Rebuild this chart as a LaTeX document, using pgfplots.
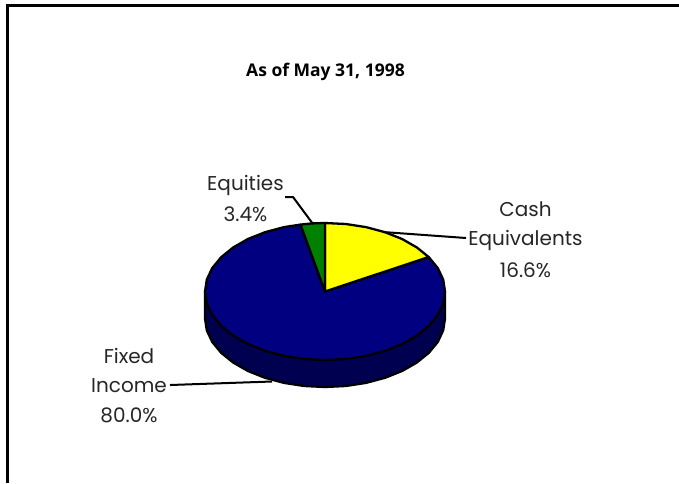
\documentclass[border=0pt]{standalone}
\usepackage{pgfplots}
\pgfplotsset{compat=1.18}
\usepackage{fontspec}
\setmainfont{Poppins}
\newfontfamily\titlefont{Open Sans}

\definecolor{fixedtop}{HTML}{000080}
\definecolor{fixedside}{HTML}{000050}
\definecolor{cash}{HTML}{FFFF00}
\definecolor{equity}{HTML}{008000}

\tikzset{
  lbl/.style={font=\fontsize{20}{23}\selectfont, text=black!85, inner sep=0pt, anchor=center},
  edge/.style={draw=black, line width=2.3pt, line join=round}
}

\begin{document}
\begin{tikzpicture}
\begin{axis}[
  scale only axis, width=679pt, height=483pt,
  xmin=0, xmax=679, ymin=0, ymax=483, y dir=reverse,
  hide axis, clip=true]

  % frame, open at the right and the bottom
  \addplot[draw=black, line width=2.6pt] coordinates {(7.3,483)(7.3,5.5)(679,5.5)};

  % side of the disc, 80.0%
  \addplot[edge, fill=fixedside] coordinates {
    (445,291.5)(445,318.5)(443.2,330.4)(437.8,341.9)(428.9,352.75)(416.9,362.5)
    (402.1,371)(385,377.8)(366,382.9)(345.8,386)(325,387)(304.2,386)(284,382.9)
    (265,377.8)(247.9,371)(233.1,362.5)(221.1,352.75)(212.2,341.9)(206.8,330.4)
    (205,318.5)(205,291.5)} -- cycle;

  % Fixed Income 80.0%
  \addplot[edge, fill=fixedtop] coordinates {
    (325,291.5)(428.7,257)(437.8,268.1)(443.2,279.6)(445,291.5)(443.2,303.4)
    (437.8,314.9)(428.9,325.75)(416.9,335.5)(402.1,344)(385,350.8)(366,355.9)
    (345.8,359)(325,360)(304.2,359)(284,355.9)(265,350.8)(247.9,344)(233.1,335.5)
    (221.1,325.75)(212.2,314.9)(206.8,303.4)(205,291.5)(206.8,279.6)(212.2,268.1)
    (221.1,257.25)(233.1,247.5)(247.9,239)(265,232.2)(284,227.1)(300.5,224.6)} -- cycle;

  % Cash Equivalents 16.6%
  \addplot[edge, fill=cash] coordinates {
    (325,291.5)(325,223)(345.8,224)(366,227.1)(385,232.2)(402.1,239)(416.9,247.5)(428.7,257)} -- cycle;

  % Equities 3.4%
  \addplot[edge, fill=equity] coordinates {
    (325,291.5)(300.5,224.6)(312,223.4)(325,223)} -- cycle;

  % leader lines
  \addplot[draw=black, line width=2pt] coordinates {(285,197)(293,197)(313,224)};
  \addplot[draw=black, line width=2pt] coordinates {(383,232)(466,238)};
  \addplot[draw=black, line width=2pt] coordinates {(170,385)(272,381.5)};

  \node[font=\fontsize{17.5}{20}\selectfont\titlefont\bfseries, inner sep=0pt] at (axis cs:325.5,72) {As of May 31, 1998};
  \node[lbl] at (axis cs:245.5,185) {Equities};
  \node[lbl] at (axis cs:245.5,214) {3.4\%};
  \node[lbl] at (axis cs:525.5,209) {Cash};
  \node[lbl] at (axis cs:525.5,240) {Equivalents};
  \node[lbl] at (axis cs:525.5,270) {16.6\%};
  \node[lbl] at (axis cs:129,356) {Fixed};
  \node[lbl] at (axis cs:129,386) {Income};
  \node[lbl] at (axis cs:129,415) {80.0\%};
\end{axis}
\pgfresetboundingbox
\path[use as bounding box] (0,0) rectangle (679pt,483pt);
\end{tikzpicture}
\end{document}
